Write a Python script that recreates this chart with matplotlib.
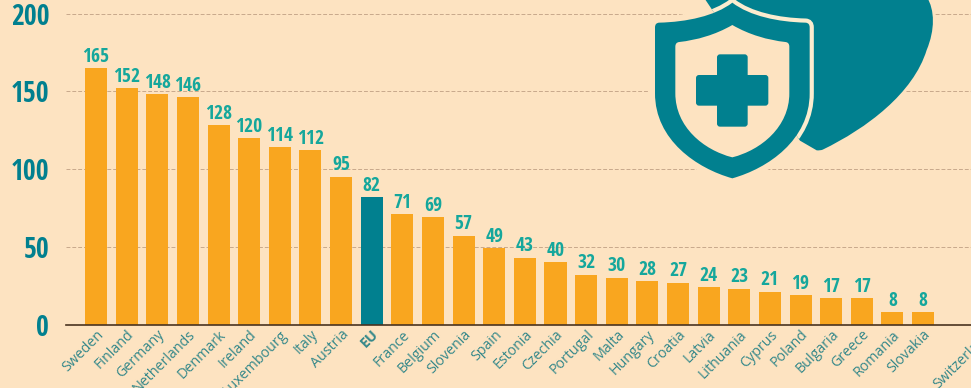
import numpy as np
import matplotlib
matplotlib.use("Agg")
import matplotlib.pyplot as plt
from matplotlib.path import Path
from matplotlib.patches import PathPatch, FancyBboxPatch
from matplotlib.transforms import ScaledTranslation

countries = ["Sweden", "Finland", "Germany", "Netherlands", "Denmark", "Ireland", "Luxembourg",
             "Italy", "Austria", "EU", "France", "Belgium", "Slovenia", "Spain", "Estonia",
             "Czechia", "Portugal", "Malta", "Hungary", "Croatia", "Latvia", "Lithuania",
             "Cyprus", "Poland", "Bulgaria", "Greece", "Romania", "Slovakia", "", "Switzerland"]
values = [165, 152, 148, 146, 128, 120, 114, 112, 95, 82, 71, 69, 57, 49, 43, 40, 32, 30, 28, 27,
          24, 23, 21, 19, 17, 17, 8, 8, np.nan, np.nan]
y_ticks = [0, 50, 100, 150, 200]

BG = "#fde3c1"
ORANGE = "#f9a61f"
TEAL = "#01808f"
NUM = "#15a79c"
TICK = "#35888a"
NARROW = "Open Sans Condensed"

W, H = 971, 388
fig = plt.figure(figsize=(W / 100, H / 100), dpi=100, facecolor=BG)
# the axes run past the right edge so that the Switzerland label still gets drawn, cut by the edge
ax = fig.add_axes([66 / W, (H - 324.5) / H, 936.7 / W, 324.5 / H], facecolor=BG)

x = np.arange(len(countries))
colors = [TEAL if c == "EU" else ORANGE for c in countries]
ax.bar(x, values, width=0.72, color=colors, zorder=2)

for xi, v in zip(x, values):
    if not np.isnan(v):
        ax.annotate(str(int(v)), (xi, v), xytext=(0, 1), textcoords="offset points", ha="center",
                    va="bottom", color=NUM, fontsize=14, fontweight="bold", family=NARROW)

ax.set_yticks(y_ticks)
ax.set_yticklabels(y_ticks, color=TEAL, fontsize=20, fontweight="bold", family=NARROW)
ax.set_xticks(x)
ax.set_xticklabels(countries, rotation=45, ha="right", va="top", rotation_mode="anchor",
                   color=TICK, fontsize=10.3, family="Open Sans")
ax.set_xlim(-0.98, 29.6)
ax.set_ylim(0, 208.7)
shift = ScaledTranslation(-2.5 / 100, 0, fig.dpi_scale_trans)
for lab in ax.get_xticklabels():
    lab.set_transform(lab.get_transform() + shift)
    if lab.get_text() == "EU":
        lab.set_fontweight("bold")
ax.tick_params(axis="x", length=0, pad=2)
ax.tick_params(axis="y", length=0, pad=12)
ax.grid(axis="y", color="#c8a98c", linestyle=(0, (4, 2)), linewidth=0.7, zorder=0)
for s in ["top", "right", "left"]:
    ax.spines[s].set_visible(False)
ax.spines["bottom"].set_color("#4a3320")
ax.spines["bottom"].set_linewidth(1.2)
ax.spines["bottom"].set_zorder(3)

# icon, drawn in pixels of the picture
icon = fig.add_axes([0, 0, 1, 1], facecolor="none")
icon.set_xlim(0, W)
icon.set_ylim(H, 0)
icon.axis("off")


def z(px, py):
    return (640 + px / 3, py / 3)


def shield(half):
    # half = points of the left side, mirrored around the centre line
    verts, codes = [z(*half[0][1])], [Path.MOVETO]
    for code, p in half[1:]:
        verts.append(z(*p))
        codes.append(code)
    for i in range(len(half) - 1, 0, -1):
        verts.append(z(554 - half[i - 1][1][0], half[i - 1][1][1]))
        codes.append(half[i][0])
    verts.append(verts[0])
    codes.append(Path.CLOSEPOLY)
    return Path(verts, codes)


C3, LT = Path.CURVE3, Path.LINETO
C4 = Path.CURVE4
outer = shield([(None, (277, 8)), (C4, (225, 48)), (C4, (140, 66)), (C4, (57, 68)),
                (C3, (45, 69)), (C3, (45, 82)), (LT, (45, 280)),
                (C4, (45, 420)), (C4, (170, 505)), (C4, (277, 535))])
inner = shield([(None, (277, 75)), (C4, (225, 105)), (C4, (170, 120)), (C4, (118, 126)),
                (C3, (106, 127)), (C3, (106, 140)), (LT, (106, 280)),
                (C4, (106, 380)), (C4, (190, 450)), (C4, (277, 472))])
back = Path([z(190, -10), z(860, -10), z(885, 30), z(885, 90), z(860, 150),
             z(820, 280), z(680, 385), z(548, 449), z(540, 452), z(530, 451), z(480, 422), z(190, -10)],
            [Path.MOVETO, LT, C4, C4, C4, C4, C4, C4, C3, C3, LT, Path.CLOSEPOLY])

# halo that cuts the grid lines around the icon
icon.add_patch(PathPatch(outer, facecolor=BG, edgecolor=BG, lw=9))
icon.add_patch(PathPatch(back, facecolor=BG, edgecolor=BG, lw=3))
back_patch = icon.add_patch(PathPatch(back, facecolor=TEAL, edgecolor="none"))
# pale gap between the shield and the shape behind it
gap = icon.add_patch(PathPatch(outer, facecolor="none", edgecolor="#fbeccf", lw=6))
gap.set_clip_path(back_patch)
icon.add_patch(PathPatch(outer, facecolor=TEAL, edgecolor="none"))
icon.add_patch(PathPatch(inner, facecolor=BG, edgecolor="none"))
for x0, y0, x1, y1 in [(231, 163, 323, 380), (168, 225, 385, 317)]:
    a, b = z(x0, y0), z(x1, y1)
    icon.add_patch(FancyBboxPatch((a[0] + 3, a[1] + 3), b[0] - a[0] - 6, b[1] - a[1] - 6,
                                  boxstyle="round,pad=3,rounding_size=3", facecolor=TEAL, edgecolor="none"))

fig.savefig("out.png", dpi=100, facecolor=BG)
